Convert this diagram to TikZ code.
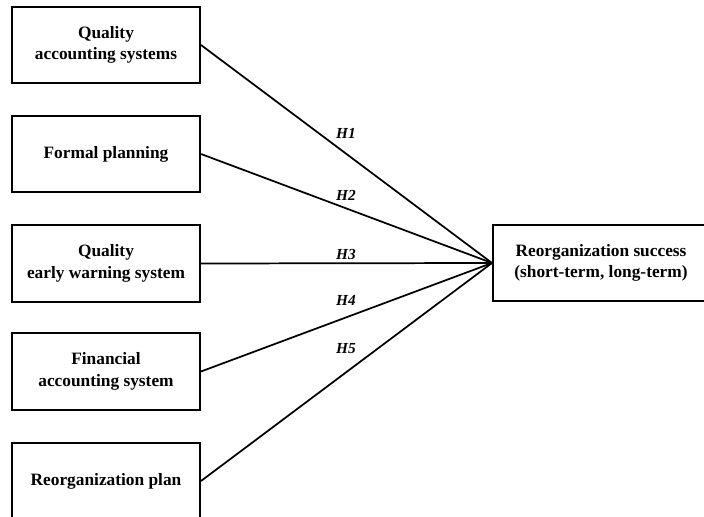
\documentclass[tikz,border=0pt]{standalone}
\usepackage{fontspec}
\setmainfont{Liberation Serif}
\usepackage{tikz}

\tikzset{
    factor/.style={draw, line width=1.5pt, rectangle, inner sep=0pt, align=center,
        minimum width=141pt, minimum height=57.5pt, font=\fontsize{13}{16}\selectfont\bfseries},
    outcome/.style={factor, minimum width=162pt},
    hyp/.style={inner sep=0.75pt, font=\fontsize{11.5}{13}\selectfont\bfseries\itshape},
    link/.style={line width=1.3pt}
}

\begin{document}
\begin{tikzpicture}[x=0.75pt,y=0.75pt,yscale=-1,xscale=1]
        \useasboundingbox (0,0) rectangle (704,517);

        % Left boxes
        \node [factor] (qas) at (106,45) {Quality\\accounting systems};
        \node [factor] (fp) at (106,154) {Formal planning};
        \node [factor] (qews) at (106,263.5) {Quality\\early warning system};
        \node [factor] (fas) at (106,371.5) {Financial\\accounting system};
        \node [factor] (rp) at (106,481) {Reorganization plan};

        % Right box
        \node [outcome] (rs) at (601,263) {Reorganization success\\(short-term, long-term)};

        % Paths
        \draw [link] (qas.east) -- (rs.west);
        \draw [link] (fp.east) -- (rs.west);
        \draw [link] (qews.east) -- (rs.west);
        \draw [link] (fas.east) -- (rs.west);
        \draw [link] (rp.east) -- (rs.west);

        % Hypotheses
        \node [hyp] (h1) at (346,133) {H1};
        \node [hyp] (h2) at (346,195) {H2};
        \node [hyp] (h3) at (346,254) {H3};
        \node [hyp] (h4) at (346,300) {H4};
        \node [hyp] (h5) at (346,349) {H5};

\end{tikzpicture}
\end{document}
